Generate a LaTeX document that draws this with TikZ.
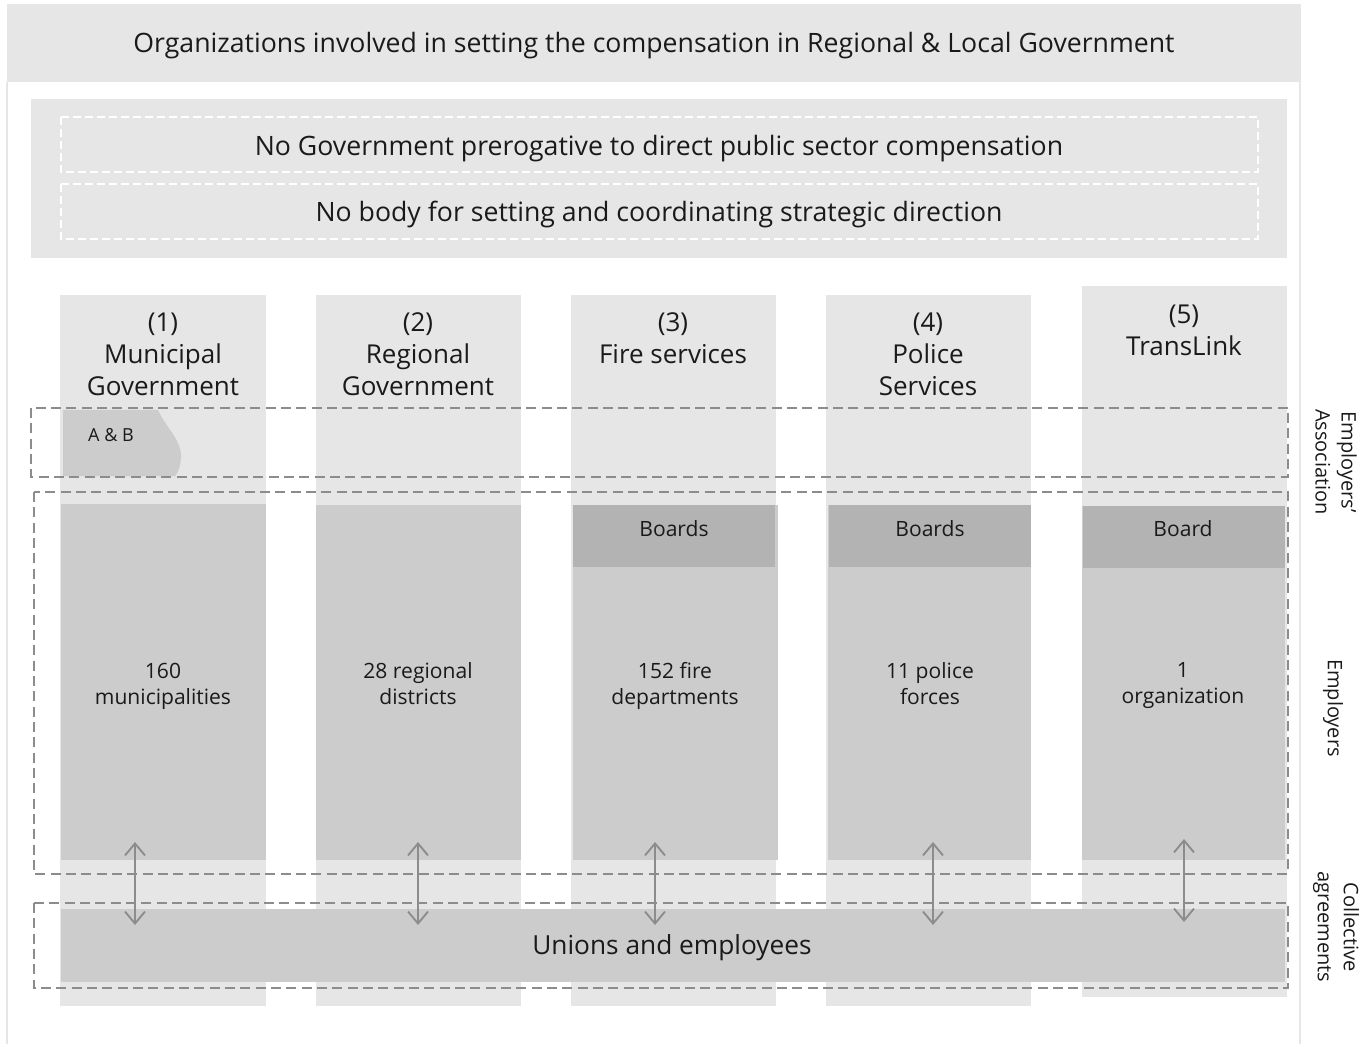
\documentclass[tikz,border=0pt]{standalone}
\usepackage{fontspec}
\setmainfont{Open Sans}
\usetikzlibrary{arrows.meta}
\definecolor{lg}{HTML}{E6E6E6}
\definecolor{mg}{HTML}{CCCCCC}
\definecolor{dg}{HTML}{B3B3B3}
\definecolor{dashc}{HTML}{8C8C8C}
\definecolor{txt}{HTML}{1A1A1A}
\newcommand\fsTitle{\fontsize{20}{24}\selectfont}
\newcommand\fsHead{\fontsize{19.5}{24}\selectfont}
\newcommand\fsBody{\fontsize{15.8}{19.5}\selectfont}
\newcommand\fsSide{\fontsize{15}{19.5}\selectfont}
\begin{document}
\begin{tikzpicture}[x=0.75pt,y=-0.75pt,
  every node/.style={text=txt, inner sep=0pt},
  panel/.style={fill=lg, draw=none},
  empbox/.style={fill=mg, draw=none},
  boardbox/.style={fill=dg, draw=none},
  whitedash/.style={draw=white, line width=0.9pt, dash pattern=on 6pt off 3pt},
  graydash/.style={draw=dashc, line width=1.3pt, dash pattern=on 7.5pt off 4pt},
  dblarrow/.style={draw=dashc, line width=1.4pt, {Straight Barb[length=9pt,width=15pt]}-{Straight Barb[length=9pt,width=15pt]}},
  sidelabel/.style={rotate=-90, align=center, font=\fsSide}
]
\useasboundingbox (0,0) rectangle (1370,1044);
% outer frame
\fill[lg] (7,4) rectangle (1301,82);
\draw[lg, line width=1.5pt] (7,82) -- (7,1044);
\draw[lg, line width=1.5pt] (1300,82) -- (1300,1044);
\node[font=\fsTitle] (title) at (654,46) {Organizations involved in setting the compensation in Regional \& Local Government};
% top panel
\fill[lg] (31,99) rectangle (1287,258);
\draw[whitedash] (61,117) rectangle (1258,172);
\draw[whitedash] (61,184) rectangle (1258,239);
\node[font=\fsTitle] (nogov) at (659,149) {No Government prerogative to direct public sector compensation};
\node[font=\fsTitle] (nobody) at (659,215) {No body for setting and coordinating strategic direction};
% columns
\fill[lg] (60,295) rectangle (266,1006);
\fill[lg] (316,295) rectangle (521,1006);
\fill[lg] (571,295) rectangle (776,1006);
\fill[lg] (826,295) rectangle (1031,1006);
\fill[lg] (1082,286) rectangle (1287,997);
% headers
\node[font=\fsHead, align=center] (h1) at (163,354) {(1)\\Municipal\\Government};
\node[font=\fsHead, align=center] (h2) at (418,354) {(2)\\Regional\\Government};
\node[font=\fsHead, align=center] (h3) at (673,338) {(3)\\Fire services};
\node[font=\fsHead, align=center] (h4) at (928,354) {(4)\\Police\\Services};
\node[font=\fsHead, align=center] (h5) at (1184,330) {(5)\\TransLink};
% A & B
\fill[mg] (63,410) -- (158,410) .. controls (166,428) and (182,440) .. (181,458) .. controls (180,468) and (178,473) .. (175,476) -- (63,476) -- cycle;
\node[font=\fontsize{13.5}{16}\selectfont] (ab) at (111,435) {A \& B};
% employers boxes
\fill[empbox] (61,504) rectangle (266,860);
\fill[empbox] (316,505) rectangle (521,860);
\fill[empbox] (573,505) rectangle (778,860);
\fill[empbox] (828,505) rectangle (1031,860);
\fill[empbox] (1082,506) rectangle (1285,860);
\fill[boardbox] (573,505) rectangle (775,567);
\fill[boardbox] (829,505) rectangle (1031,567);
\fill[boardbox] (1083,506) rectangle (1285,568);
\node[font=\fsBody] (b3) at (674,529) {Boards};
\node[font=\fsBody] (b4) at (930,529) {Boards};
\node[font=\fsBody] (b5) at (1183,529) {Board};
\node[font=\fsBody, align=center] (e1) at (163,686) {160\\municipalities};
\node[font=\fsBody, align=center] (e2) at (418,684) {28 regional\\districts};
\node[font=\fsBody, align=center] (e3) at (675,686) {152 fire\\departments};
\node[font=\fsBody, align=center] (e4) at (930,684) {11 police\\forces};
\node[font=\fsBody, align=center] (e5) at (1183,686) {1\\organization};
% unions
\fill[empbox] (61,909) rectangle (1285,982);
\node[font=\fontsize{19.7}{24}\selectfont] (unions) at (672,948) {Unions and employees};
% dashed groups
\draw[graydash] (31,408) rectangle (1288,477);
\draw[graydash] (34,492) rectangle (1288,874);
\draw[graydash] (34,903) rectangle (1288,988);
% arrows
\coordinate (a1t) at (135,842); \coordinate (a1b) at (135,925);
\coordinate (a2t) at (418,842); \coordinate (a2b) at (418,925);
\coordinate (a3t) at (655,842); \coordinate (a3b) at (655,925);
\coordinate (a4t) at (933,842); \coordinate (a4b) at (933,925);
\coordinate (a5t) at (1184,839); \coordinate (a5b) at (1184,922);
\draw[dblarrow] (a1t) -- (a1b);
\draw[dblarrow] (a2t) -- (a2b);
\draw[dblarrow] (a3t) -- (a3b);
\draw[dblarrow] (a4t) -- (a4b);
\draw[dblarrow] (a5t) -- (a5b);
% side labels
\node[sidelabel] (lea) at (1336,462) {Employers'\\Association};
\node[sidelabel] (lemp) at (1333,708) {Employers};
\node[sidelabel] (lca) at (1336,927) {Collective\\agreements};
\end{tikzpicture}
\end{document}
